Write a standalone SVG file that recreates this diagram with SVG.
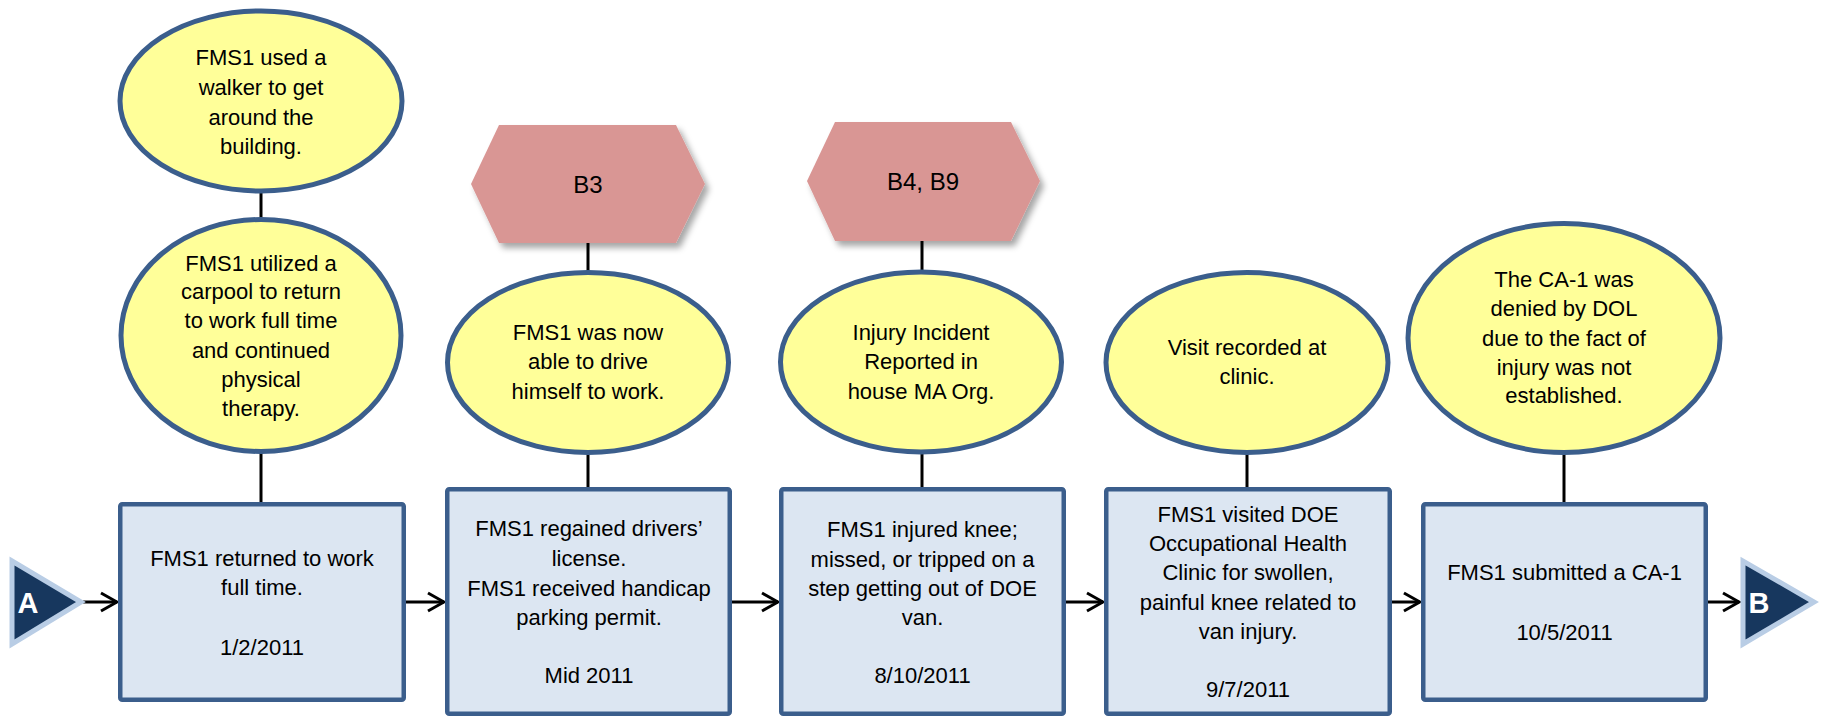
<svg xmlns="http://www.w3.org/2000/svg" width="1822" height="718" viewBox="0 0 1822 718">
<style>
  .ell { fill: #FFFF99; stroke: #3B5E8C; stroke-width: 5; }
  .box { fill: #DCE6F2; stroke: #3B5E8C; stroke-width: 4.5; }
  .hex { fill: #D99694; }
  .term { fill: #17375E; stroke: #B9CDE5; stroke-width: 5; stroke-linejoin: miter; }
  .t { font-family: "Liberation Sans", Arial, sans-serif; font-size: 22px; fill: #000; text-anchor: middle; }
  .th { font-family: "Liberation Sans", Arial, sans-serif; font-size: 24px; fill: #000; text-anchor: middle; }
  .tt { font-family: "Liberation Sans", Arial, sans-serif; font-size: 29px; font-weight: bold; fill: #fff; text-anchor: middle; }
  .ln { stroke: #000; stroke-width: 3; fill: none; }
</style>
<defs>
  <filter id="shadow" x="-10%" y="-10%" width="125%" height="135%">
    <feDropShadow dx="4" dy="5" stdDeviation="3" flood-color="#000" flood-opacity="0.35"/>
  </filter>
  <marker id="arr" viewBox="0 0 20 22" refX="18" refY="11" markerWidth="20" markerHeight="22" markerUnits="userSpaceOnUse" orient="auto">
    <path d="M2,2 L18,11 L2,20" fill="none" stroke="#000" stroke-width="3"/>
  </marker>
</defs>

<g id="connectors">
  <line class="ln" x1="261" y1="192" x2="261" y2="219"/>
  <line class="ln" x1="261" y1="453" x2="261" y2="503"/>
  <line class="ln" x1="588" y1="243" x2="588" y2="271"/>
  <line class="ln" x1="588" y1="454" x2="588" y2="488"/>
  <line class="ln" x1="922" y1="241" x2="922" y2="270"/>
  <line class="ln" x1="922" y1="454" x2="922" y2="488"/>
  <line class="ln" x1="1247" y1="454" x2="1247" y2="488"/>
  <line class="ln" x1="1564" y1="454" x2="1564" y2="503"/>
  <line class="ln" x1="83" y1="602" x2="117" y2="602" marker-end="url(#arr)"/>
  <line class="ln" x1="406" y1="602" x2="444" y2="602" marker-end="url(#arr)"/>
  <line class="ln" x1="732" y1="602" x2="778" y2="602" marker-end="url(#arr)"/>
  <line class="ln" x1="1066" y1="602" x2="1103" y2="602" marker-end="url(#arr)"/>
  <line class="ln" x1="1392" y1="602" x2="1420" y2="602" marker-end="url(#arr)"/>
  <line class="ln" x1="1708" y1="602" x2="1739" y2="602" marker-end="url(#arr)"/>
</g>

<g id="start-A">
  <polygon class="term" points="12,561 12,644 81,602"/>
  <text class="tt" x="28" y="613">A</text>
</g>

<g id="end-B">
  <polygon class="term" points="1743,561 1743,644 1814,602"/>
  <text class="tt" x="1759" y="613">B</text>
</g>

<g id="hex-b3">
  <polygon class="hex" filter="url(#shadow)" points="471,184 499,125 676,125 705,184 676,243 499,243"/>
  <text class="th" x="588" y="193">B3</text>
</g>

<g id="hex-b4b9">
  <polygon class="hex" filter="url(#shadow)" points="807,181 835,122 1011,122 1040,181 1011,241 835,241"/>
  <text class="th" x="923" y="190">B4, B9</text>
</g>

<g id="ell-walker">
  <ellipse class="ell" cx="261" cy="101" rx="141" ry="90"/>
  <text class="t" x="261" y="65">FMS1 used a</text>
  <text class="t" x="261" y="95">walker to get</text>
  <text class="t" x="261" y="125">around the</text>
  <text class="t" x="261" y="154">building.</text>
</g>

<g id="ell-carpool">
  <ellipse class="ell" cx="261" cy="335.5" rx="140" ry="116"/>
  <text class="t" x="261" y="271">FMS1 utilized a</text>
  <text class="t" x="261" y="299">carpool to return</text>
  <text class="t" x="261" y="328">to work full time</text>
  <text class="t" x="261" y="358">and continued</text>
  <text class="t" x="261" y="387">physical</text>
  <text class="t" x="261" y="416">therapy.</text>
</g>

<g id="ell-drive">
  <ellipse class="ell" cx="588" cy="362.5" rx="140.5" ry="90"/>
  <text class="t" x="588" y="340">FMS1 was now</text>
  <text class="t" x="588" y="369">able to drive</text>
  <text class="t" x="588" y="399">himself to work.</text>
</g>

<g id="ell-injury">
  <ellipse class="ell" cx="921" cy="362" rx="140.5" ry="90"/>
  <text class="t" x="921" y="340">Injury Incident</text>
  <text class="t" x="921" y="369">Reported in</text>
  <text class="t" x="921" y="399">house MA Org.</text>
</g>

<g id="ell-visit">
  <ellipse class="ell" cx="1247" cy="362.5" rx="141" ry="90"/>
  <text class="t" x="1247" y="355">Visit recorded at</text>
  <text class="t" x="1247" y="384">clinic.</text>
</g>

<g id="ell-denied">
  <ellipse class="ell" cx="1564" cy="338" rx="156" ry="114.5"/>
  <text class="t" x="1564" y="287">The CA-1 was</text>
  <text class="t" x="1564" y="316">denied by DOL</text>
  <text class="t" x="1564" y="346">due to the fact of</text>
  <text class="t" x="1564" y="375">injury was not</text>
  <text class="t" x="1564" y="403">established.</text>
</g>

<g id="box-returned">
  <rect class="box" x="120.25" y="504.25" width="283.5" height="195.5" rx="2"/>
  <text class="t" x="262" y="566">FMS1 returned to work</text>
  <text class="t" x="262" y="595">full time.</text>
  <text class="t" x="262" y="655">1/2/2011</text>
</g>

<g id="box-license">
  <rect class="box" x="447.25" y="489.25" width="282.5" height="224.5" rx="2"/>
  <text class="t" x="589" y="536">FMS1 regained drivers’</text>
  <text class="t" x="589" y="566">license.</text>
  <text class="t" x="589" y="596">FMS1 received handicap</text>
  <text class="t" x="589" y="625">parking permit.</text>
  <text class="t" x="589" y="683">Mid 2011</text>
</g>

<g id="box-injured">
  <rect class="box" x="781.25" y="489.25" width="282.5" height="224.5" rx="2"/>
  <text class="t" x="922.5" y="537">FMS1 injured knee;</text>
  <text class="t" x="922.5" y="567">missed, or tripped on a</text>
  <text class="t" x="922.5" y="596">step getting out of DOE</text>
  <text class="t" x="922.5" y="625">van.</text>
  <text class="t" x="922.5" y="683">8/10/2011</text>
</g>

<g id="box-visited">
  <rect class="box" x="1106.25" y="489.25" width="283.5" height="224.5" rx="2"/>
  <text class="t" x="1248" y="522">FMS1 visited DOE</text>
  <text class="t" x="1248" y="551">Occupational Health</text>
  <text class="t" x="1248" y="580">Clinic for swollen,</text>
  <text class="t" x="1248" y="610">painful knee related to</text>
  <text class="t" x="1248" y="639">van injury.</text>
  <text class="t" x="1248" y="697">9/7/2011</text>
</g>

<g id="box-submitted">
  <rect class="box" x="1423.25" y="504.25" width="282.5" height="195.5" rx="2"/>
  <text class="t" x="1564.5" y="580">FMS1 submitted a CA-1</text>
  <text class="t" x="1564.5" y="640">10/5/2011</text>
</g>
</svg>
